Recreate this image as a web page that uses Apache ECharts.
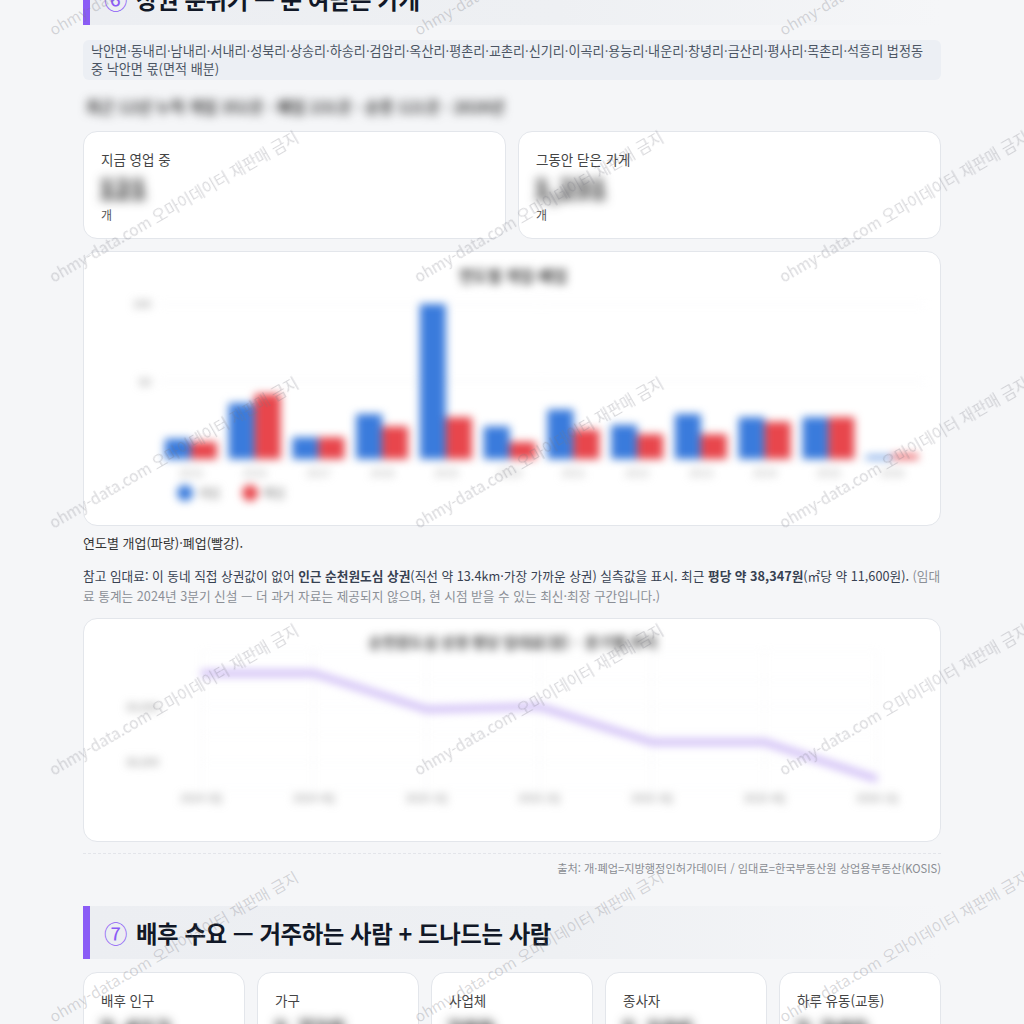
<!DOCTYPE html>
<html lang="ko"><head><meta charset="utf-8">
<script src="https://cdn.jsdelivr.net/npm/echarts@6/dist/echarts.min.js"></script>
<style>
html,body{margin:0;padding:0;width:1024px;height:1024px;overflow:hidden;background:#f5f6f8;font-family:"Noto Sans CJK KR","Noto Sans",sans-serif;color:#222;}
.abs{position:absolute;box-sizing:border-box;}
.sec{left:83px;width:858px;background:linear-gradient(90deg,#eceef2 0%,#eef0f3 55%,rgba(245,246,248,0) 100%);border-left:7px solid #8b5cf6;}
.sec .t{position:absolute;left:14px;top:50%;transform:translateY(-50%);font-size:23.4px;font-weight:700;color:#111827;letter-spacing:-0.4px;white-space:nowrap;}
.sec .t .n{color:#8b5cf6;font-weight:400;margin-right:9px;}
.card{background:#fff;border:1px solid #e3e6eb;border-radius:14px;}
.lab{position:absolute;left:17px;font-size:13.5px;color:#444;}
.num{position:absolute;left:15px;font-size:26px;font-weight:800;color:#222;filter:blur(5.5px);}
.unit{position:absolute;left:17px;font-size:12px;color:#555;}
.blur{filter:blur(4px);}
.wm{position:absolute;font-size:15.5px;color:rgba(120,120,130,0.28);white-space:nowrap;transform-origin:0 50%;transform:rotate(-30deg);pointer-events:none;z-index:50;}
</style></head>
<body>
<div class="abs sec" style="top:-28px;height:53px;"><div class="t"><span class="n">⑥</span>상권 분위기 — 문 여닫은 가게</div></div>

<div class="abs" style="left:83px;top:40px;width:858px;height:40px;background:#eceff4;border-radius:6px;padding:2px 8px;font-size:13.1px;line-height:18px;color:#4b5563;white-space:nowrap;">낙안면·동내리·남내리·서내리·성북리·상송리·하송리·검암리·옥산리·평촌리·교촌리·신기리·이곡리·용능리·내운리·창녕리·금산리·평사리·목촌리·석흥리 법정동<br>중 낙안면 몫(면적 배분)</div>

<div class="abs" style="left:86px;top:95px;font-size:15.5px;color:#3a3a3a;white-space:nowrap;font-weight:700;filter:blur(5px);">최근 12년 누적 개업 352곳 · 폐업 231곳 · 순증 121곳 · 2026년</div>

<div class="abs card" style="left:83px;top:131px;width:423px;height:108px;">
  <div class="lab" style="top:17px;">지금 영업 중</div>
  <div class="num" style="top:37px;">121</div>
  <div class="unit" style="top:74px;">개</div>
</div>
<div class="abs card" style="left:518px;top:131px;width:423px;height:108px;">
  <div class="lab" style="top:17px;">그동안 닫은 가게</div>
  <div class="num" style="top:37px;">1,231</div>
  <div class="unit" style="top:74px;">개</div>
</div>

<div class="abs card" style="left:83px;top:251px;width:858px;height:275px;overflow:hidden;">
  <div id="bar" class="blur" style="position:absolute;left:0;top:0;width:858px;height:275px;"></div>
</div>

<div class="abs" style="left:83px;top:533px;font-size:13px;color:#333;white-space:nowrap;">연도별 개업(파랑)·폐업(빨강).</div>

<div class="abs" style="left:83px;top:566px;width:860px;font-size:12.7px;line-height:19.5px;color:#374151;word-break:break-all;">참고 임대료: 이 동네 직접 상권값이 없어 <b>인근 순천원도심 상권</b>(직선 약 13.4km·가장 가까운 상권) 실측값을 표시. 최근 <b>평당 약 38,347원</b>(㎡당 약 11,600원). <span style="color:#8b8f96;">(임대료 통계는 2024년 3분기 신설 — 더 과거 자료는 제공되지 않으며, 현 시점 받을 수 있는 최신·최장 구간입니다.)</span></div>

<div class="abs card" style="left:83px;top:618px;width:858px;height:224px;overflow:hidden;">
  <div id="line" class="blur" style="position:absolute;left:0;top:0;width:858px;height:224px;"></div>
</div>

<div class="abs" style="left:83px;top:853px;width:858px;border-top:1px dashed #e3e5ea;"></div>
<div class="abs" style="right:83px;top:860px;font-size:11.2px;color:#8a8d93;white-space:nowrap;">출처: 개·폐업=지방행정인허가데이터 / 임대료=한국부동산원 상업용부동산(KOSIS)</div>

<div class="abs sec" style="top:906px;height:53px;"><div class="t"><span class="n">⑦</span>배후 수요 — 거주하는 사람 + 드나드는 사람</div></div>

<div class="abs card" style="left:83px;top:972px;width:162px;height:80px;"><div class="lab" style="top:17px;">배후 인구</div><div class="num" style="top:38px;">3,412</div></div>
<div class="abs card" style="left:257px;top:972px;width:162px;height:80px;"><div class="lab" style="top:17px;">가구</div><div class="num" style="top:38px;">1,725</div></div>
<div class="abs card" style="left:431px;top:972px;width:162px;height:80px;"><div class="lab" style="top:17px;">사업체</div><div class="num" style="top:38px;">289</div></div>
<div class="abs card" style="left:605px;top:972px;width:162px;height:80px;"><div class="lab" style="top:17px;">종사자</div><div class="num" style="top:38px;">1,106</div></div>
<div class="abs card" style="left:779px;top:972px;width:162px;height:80px;"><div class="lab" style="top:17px;">하루 유동(교통)</div><div class="num" style="top:38px;">2,340</div></div>

<div id="wms"></div>

<script>
// ---- data ----
const years = ['2015','2016','2017','2018','2019','2020','2021','2022','2023','2024','2025','2026'];
const openings = [13,36,14,29,100,21,32,22,29,27,27,2];
const closures = [11,42,14,21,27,11,19,16,16,24,27,3];
const quarters = ['2024 3Q','2024 4Q','2025 1Q','2025 2Q','2025 3Q','2025 4Q','2026 1Q'];
const rentPerPyeong = [39300,39300,38975,39000,38680,38680,38347];
const barTitle = '연도별 개업·폐업';
const lineTitle = '순천원도심 상권 평당 임대료(원) · 분기별 추이';
const watermarkText = 'ohmy-data.com 오마이데이터 재판매 금지';

// ---- watermarks ----
(function(){
  const host = document.getElementById('wms');
  const xs = [50, 415, 780];
  const ys = [30, 277, 523, 770, 1017];
  ys.forEach(y => xs.forEach(x => {
    const d = document.createElement('div');
    d.className = 'wm';
    d.textContent = watermarkText;
    d.style.left = x + 'px';
    d.style.top = (y - 11) + 'px';
    host.appendChild(d);
  }));
})();

const font = '"Noto Sans CJK KR","Noto Sans",sans-serif';

// ---- bar chart ----
const bar = echarts.init(document.getElementById('bar'), null, {renderer:'canvas'});
bar.setOption({
  animation:false,
  textStyle:{fontFamily:font},
  title:{text:barTitle,left:'center',top:11,textStyle:{fontSize:15.5,fontWeight:'bold',color:'#444',fontFamily:font}},
  legend:{left:88,top:228,icon:'circle',itemWidth:16,itemHeight:16,itemGap:22,textStyle:{color:'#777',fontSize:12},data:['개업','폐업']},
  grid:{left:75,right:18,top:52,bottom:68},
  xAxis:{type:'category',data:years,axisTick:{show:false},axisLine:{show:false},axisLabel:{color:'#aaa',fontSize:11,margin:8}},
  yAxis:{type:'value',min:0,max:100,interval:50,axisLabel:{color:'#888',fontSize:11,showMinLabel:false},splitLine:{lineStyle:{color:'#f1f2f5'}}},
  series:[
    {name:'개업',type:'bar',data:openings,barWidth:26,barGap:'0%',itemStyle:{color:'#3a7bdc'}},
    {name:'폐업',type:'bar',data:closures,barWidth:26,itemStyle:{color:'#e8464c'}}
  ]
});

// ---- line chart ----
const line = echarts.init(document.getElementById('line'), null, {renderer:'canvas'});
line.setOption({
  animation:false,
  textStyle:{fontFamily:font},
  title:{text:lineTitle,left:'center',top:11,textStyle:{fontSize:15,fontWeight:'bold',color:'#444',fontFamily:font}},
  grid:{left:117,right:65,top:32,bottom:53},
  xAxis:{type:'category',data:quarters,boundaryGap:false,axisTick:{show:false},axisLine:{show:false},
         axisLabel:{color:'#888',fontSize:11,margin:2},splitLine:{show:true,lineStyle:{color:'#f3f4f7'}}},
  yAxis:{type:'value',min:38250,max:39500,interval:250,
         axisLabel:{color:'#888',fontSize:11,margin:42,showMaxLabel:false,
           formatter:v => (v % 500 === 0 && v < 39500) ? v.toLocaleString('en-US') : ''},
         splitLine:{lineStyle:{color:'#f7f8fa'}}},
  series:[{type:'line',data:rentPerPyeong,symbol:'none',lineStyle:{color:'#c8b3f4',width:6},itemStyle:{color:'#c8b3f4'}}]
});
</script>
</body></html>
